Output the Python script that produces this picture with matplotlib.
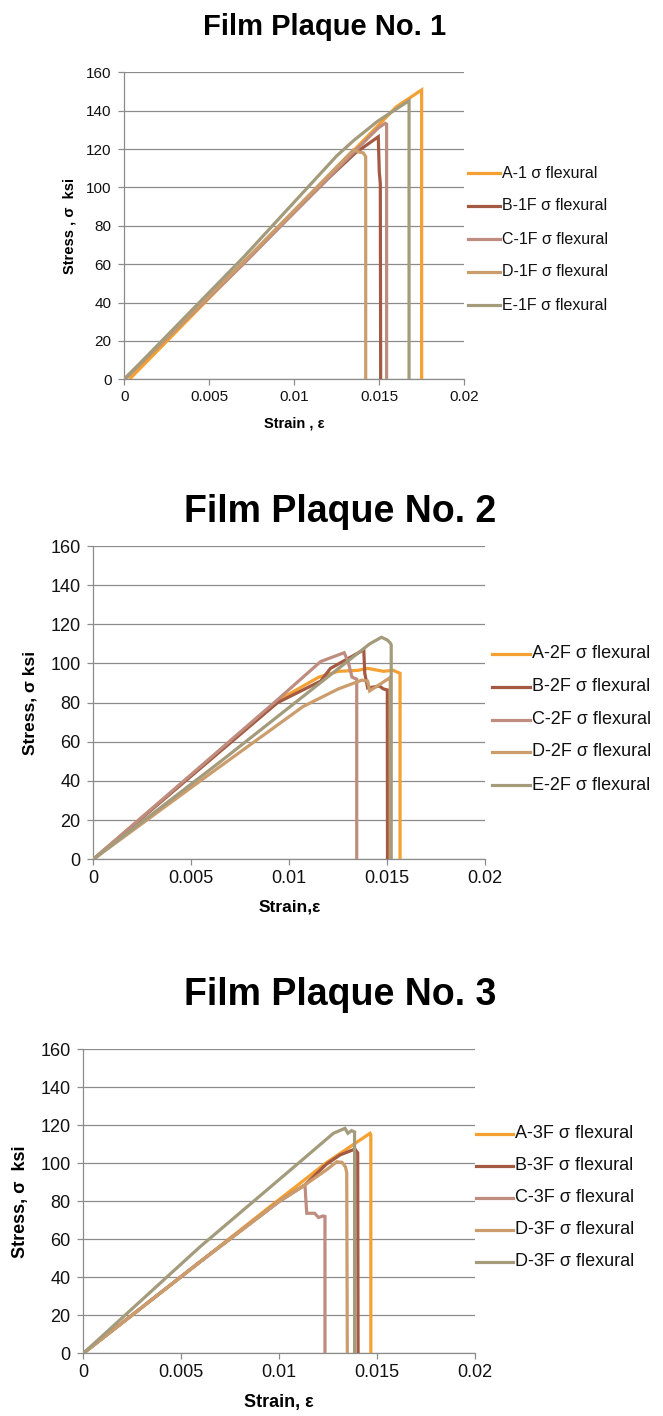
import matplotlib
matplotlib.use("Agg")
import matplotlib.pyplot as plt
from matplotlib.lines import Line2D

plt.rcParams["font.family"] = ["Liberation Sans", "DejaVu Sans"]

# ---------------------------------------------------------------- data
y_ticks = [0, 20, 40, 60, 80, 100, 120, 140, 160]
x_ticks = [0, 0.005, 0.01, 0.015, 0.02]
x_tick_labels = ["0", "0.005", "0.01", "0.015", "0.02"]

# Film plaque 1
p1_labels = ["A-1 σ flexural", "B-1F σ flexural", "C-1F σ flexural",
             "D-1F σ flexural", "E-1F σ flexural"]
p1_a_strain = [0.0003, 0.0070, 0.0138, 0.0160, 0.01749, 0.01749]
p1_a_stress = [0, 60.5, 122, 142, 150.8, 0]
p1_b_strain = [0, 0.0060, 0.0121, 0.01357, 0.01494, 0.01500, 0.01506, 0.01508]
p1_b_stress = [0, 52, 105.6, 117.8, 126.4, 108, 102, 0]
p1_c_strain = [0, 0.0070, 0.0130, 0.01494, 0.01534, 0.01543, 0.01543]
p1_c_stress = [0, 60, 114, 131, 133.4, 133, 0]
p1_d_strain = [0, 0.0070, 0.01347, 0.0138, 0.01406, 0.0142, 0.0142]
p1_d_stress = [0, 61, 119.5, 118.5, 118, 116, 0]
p1_e_strain = [0, 0.0070, 0.0125, 0.0135, 0.0149, 0.01675, 0.01675]
p1_e_stress = [0, 63.5, 116.5, 124.5, 134.5, 145.2, 0]

# Film plaque 2
p2_labels = ["A-2F σ flexural", "B-2F σ flexural", "C-2F σ flexural",
             "D-2F σ flexural", "E-2F σ flexural"]
p2_a_strain = [0, 0.0094, 0.0115, 0.0125, 0.0135, 0.0140, 0.0148, 0.0153, 0.01565, 0.01565]
p2_a_stress = [0, 81, 93, 96, 96.5, 97.5, 96, 96.5, 95, 0]
p2_b_strain = [0, 0.0094, 0.0116, 0.0121, 0.0138, 0.01385, 0.0140, 0.0146, 0.0148, 0.0150, 0.01501]
p2_b_stress = [0, 80, 91, 97.5, 107, 95, 87.5, 88.5, 87, 86.5, 0]
p2_c_strain = [0, 0.0094, 0.0116, 0.0128, 0.0130, 0.0132, 0.01344, 0.01344]
p2_c_stress = [0, 81.5, 101, 105.5, 101, 93, 92, 0]
p2_d_strain = [0, 0.0060, 0.0107, 0.0125, 0.0137, 0.0140, 0.0141, 0.0151, 0.01515, 0.01515]
p2_d_stress = [0, 44, 78, 87, 91.5, 91, 86, 92.5, 93, 0]
p2_e_strain = [0, 0.0065, 0.0141, 0.0147, 0.0150, 0.01515, 0.0152, 0.0152]
p2_e_stress = [0, 50, 110, 113.4, 112, 110.5, 109.5, 0]

# Film plaque 3
p3_labels = ["A-3F σ flexural", "B-3F σ flexural", "C-3F σ flexural",
             "D-3F σ flexural", "D-3F σ flexural"]
p3_a_strain = [0, 0.0060, 0.0095, 0.0110, 0.0124, 0.01463, 0.01467, 0.01467]
p3_a_stress = [0, 48.5, 77, 89, 100.3, 115.8, 115, 0]
p3_b_strain = [0, 0.0060, 0.0100, 0.0113, 0.0124, 0.0131, 0.01386, 0.01400, 0.01402]
p3_b_stress = [0, 48.5, 80, 88.6, 99.5, 104.4, 107.5, 105.5, 0]
p3_c_strain = [0, 0.0060, 0.0100, 0.01131, 0.01136, 0.0114, 0.0118, 0.0120, 0.01224, 0.01233, 0.01233]
p3_c_stress = [0, 48.5, 80, 88.6, 80, 73.7, 73.7, 71.5, 72.3, 72, 0]
p3_d_strain = [0, 0.0060, 0.0100, 0.0113, 0.0124, 0.01293, 0.0132, 0.01338, 0.01344, 0.01347]
p3_d_stress = [0, 48.5, 80, 88.6, 96.5, 100.8, 100.5, 98, 95, 0]
p3_e_strain = [0, 0.00595, 0.01106, 0.01276, 0.01335, 0.01350, 0.01369, 0.01384, 0.01384]
p3_e_stress = [0, 56, 100.8, 115.8, 118.4, 115.8, 117.2, 116.5, 0]

series_colors = ["#F5A032", "#A45A42", "#BE8D80", "#CB9C6C", "#A39B7B"]

# ---------------------------------------------------------------- layout
W, H = 663, 1416
GRID = "#8C8C8C"


def fx(px):
    return px / W


def fy(py):
    return 1 - py / H


def panel(fig, box, series, labels, title, title_pos, title_size,
          ylabel, ylabel_x, xlabel, xlabel_y, tick_size, label_size,
          key_x, key_ys, key_size):
    left, top, right, bottom = box
    ax = fig.add_axes([fx(left), fy(bottom), (right - left) / W, (bottom - top) / H])
    for (strain, stress), color in zip(series, series_colors):
        ax.plot(strain, stress, color=color, lw=2.3, solid_joinstyle="miter",
                solid_capstyle="butt", zorder=3)
    ax.set_xlim(0, 0.02)
    ax.set_ylim(0, 160)
    ax.set_yticks(y_ticks)
    ax.set_xticks(x_ticks)
    ax.set_xticklabels(x_tick_labels)
    ax.yaxis.grid(True, color=GRID, lw=0.9)
    ax.set_axisbelow(True)
    for side in ("top", "right"):
        ax.spines[side].set_visible(False)
    for side in ("left", "bottom"):
        ax.spines[side].set_color(GRID)
        ax.spines[side].set_linewidth(0.9)
    ax.tick_params(axis="both", direction="out", length=4.3, width=0.9,
                   color=GRID, labelsize=tick_size, labelcolor="#111111")
    ax.tick_params(axis="y", pad=5)
    ax.tick_params(axis="x", pad=3.5)

    fig.text(fx(title_pos[0]), fy(title_pos[1]), title, ha="center", va="center",
             fontsize=title_size, fontweight="bold")
    fig.text(fx(ylabel_x), fy((top + bottom) / 2), ylabel, rotation=90,
             ha="center", va="center", fontsize=label_size, fontweight="bold")
    fig.text(fx((left + right) / 2), fy(xlabel_y), xlabel, ha="center",
             va="center", fontsize=label_size, fontweight="bold")

    x0, x1, xt = key_x
    for label, color, ky in zip(labels, series_colors, key_ys):
        fig.add_artist(Line2D([fx(x0), fx(x1)], [fy(ky), fy(ky)], color=color,
                              lw=2.3, transform=fig.transFigure))
        fig.text(fx(xt), fy(ky), label, ha="left", va="center",
                 fontsize=key_size, color="#111111")
    return ax


fig = plt.figure(figsize=(W / 100, H / 100), dpi=100)

panel(fig, (124.3, 72.3, 464.3, 379.3),
      [(p1_a_strain, p1_a_stress), (p1_b_strain, p1_b_stress),
       (p1_c_strain, p1_c_stress), (p1_d_strain, p1_d_stress),
       (p1_e_strain, p1_e_stress)],
      p1_labels, "Film Plaque No. 1", (325, 27), 21,
      "Stress , σ  ksi", 70, "Strain , ε", 423, 11, 10.5,
      (468, 500, 502), [173.3, 206, 239.3, 271.7, 305], 11.5)

panel(fig, (93.3, 546, 485.3, 859.3),
      [(p2_a_strain, p2_a_stress), (p2_b_strain, p2_b_stress),
       (p2_c_strain, p2_c_stress), (p2_d_strain, p2_d_stress),
       (p2_e_strain, p2_e_stress)],
      p2_labels, "Film Plaque No. 2", (340, 512), 27,
      "Stress, σ ksi", 30, "Strain,ε", 907, 13, 12.5,
      (492, 530, 532), [654, 687, 720, 752, 785], 13)

panel(fig, (83.3, 1049.3, 475.3, 1353.3),
      [(p3_a_strain, p3_a_stress), (p3_b_strain, p3_b_stress),
       (p3_c_strain, p3_c_stress), (p3_d_strain, p3_d_stress),
       (p3_e_strain, p3_e_stress)],
      p3_labels, "Film Plaque No. 3", (340, 995), 27,
      "Stress, σ  ksi", 21, "Strain, ε", 1402, 13, 13,
      (476, 513, 515), [1134, 1166, 1198, 1230, 1262], 13)

fig.savefig("out.png", dpi=100, facecolor="white")
